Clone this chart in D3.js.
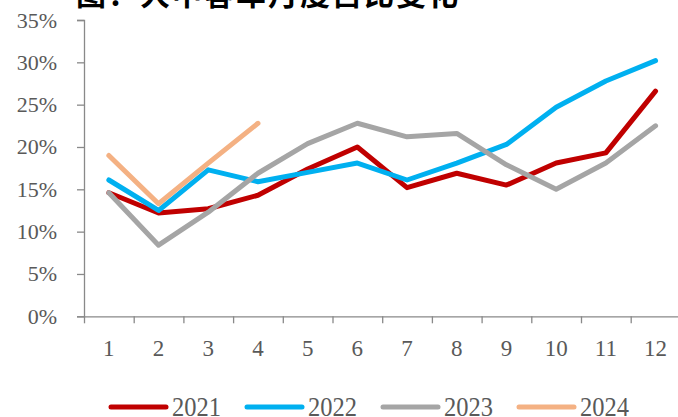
<!DOCTYPE html>
<html>
<head>
<meta charset="utf-8">
<script src="https://cdn.jsdelivr.net/npm/d3@7"></script>
<style>
  body { margin: 0; background: #fff; }
  svg { display: block; }
  .serif { font-family: "Liberation Serif", "Times New Roman", "DejaVu Serif", serif; }
</style>
</head>
<body>
<div id="chart"></div>
<script>
// monthly share
var months = [1, 2, 3, 4, 5, 6, 7, 8, 9, 10, 11, 12];
var years = ["2021", "2022", "2023", "2024"];
var s2021 = [14.6, 12.2, 12.7, 14.3, 17.4, 20.0, 15.2, 16.9, 15.5, 18.1, 19.3, 26.6];
var s2022 = [16.1, 12.5, 17.3, 15.9, 17.0, 18.1, 16.1, 18.1, 20.3, 24.7, 27.8, 30.2];
var s2023 = [14.6, 8.4, 12.3, 16.9, 20.4, 22.8, 21.2, 21.6, 17.9, 15.0, 18.1, 22.5];
var s2024 = [19.0, 13.3, 18.1, 22.8];
var yTicks = [0, 5, 10, 15, 20, 25, 30, 35];
var colors = ["#C00000", "#00B0F0", "#A5A5A5", "#F4B183"];

var series = [s2021, s2022, s2023, s2024];

var W = 678, H = 417;
var svg = d3.select("#chart").append("svg")
    .attr("width", W)
    .attr("height", H);

// title, cut off at the top like the source image
svg.append("text")
    .attr("x", 76)
    .attr("y", 5)
    .attr("font-family", "Noto Sans CJK SC")
    .attr("font-weight", "bold")
    .attr("font-size", 30)
    .attr("letter-spacing", 2)
    .attr("fill", "#000")
    .text("图：大中客车月度占比变化");

// scales
var x = d3.scaleLinear()
    .domain([0, 12])
    .range([84, 680.4]);

var y = d3.scaleLinear()
    .domain([0, 35])
    .range([316.3, 20]);

var axisColor = "#898989";
var labelColor = "#595959";

// y axis
var gy = svg.append("g")
    .attr("transform", "translate(84,0)")
    .call(d3.axisLeft(y)
        .tickValues(yTicks)
        .tickSize(7)
        .tickPadding(20)
        .tickFormat(function(d) { return d + "%"; }));

// x axis, ticks on month boundaries
var gx = svg.append("g")
    .attr("transform", "translate(0," + y(0) + ")")
    .call(d3.axisBottom(x)
        .tickValues(d3.range(0, 13))
        .tickSize(7)
        .tickSizeOuter(0)
        .tickFormat(""));

[gx, gy].forEach(function(g) {
    g.attr("font-family", null).attr("font-size", null);
    g.select(".domain").attr("stroke", axisColor).attr("stroke-width", 1.3);
    g.selectAll(".tick line").attr("stroke", axisColor).attr("stroke-width", 1.3);
    g.selectAll(".tick text")
        .attr("class", "serif")
        .attr("fill", labelColor)
        .style("font-size", "22px");
});
gy.selectAll(".tick text").attr("dy", 7);

// month labels at centre of each slot
svg.append("g").selectAll("text")
    .data(months)
    .enter()
    .append("text")
    .attr("class", "serif")
    .attr("x", function(d) { return x(d - 0.5); })
    .attr("y", 356)
    .attr("text-anchor", "middle")
    .attr("fill", labelColor)
    .style("font-size", "23px")
    .text(function(d) { return d; });

// lines
var line = d3.line()
    .x(function(d, i) { return x(i + 0.5); })
    .y(function(d) { return y(d); });

svg.append("g").selectAll("path")
    .data(series)
    .enter()
    .append("path")
    .attr("d", function(d) { return line(d); })
    .attr("fill", "none")
    .attr("stroke", function(d, i) { return colors[i]; })
    .attr("stroke-width", 5)
    .attr("stroke-linejoin", "round")
    .attr("stroke-linecap", "round");

// legend
var legend = svg.append("g").selectAll("g")
    .data(years)
    .enter()
    .append("g")
    .attr("transform", function(d, i) { return "translate(" + (111 + i * 136) + ",407)"; });

legend.append("line")
    .attr("x1", 0)
    .attr("x2", 55)
    .attr("y1", 0)
    .attr("y2", 0)
    .attr("stroke", function(d, i) { return colors[i]; })
    .attr("stroke-width", 5)
    .attr("stroke-linecap", "round");

legend.append("text")
    .attr("class", "serif")
    .attr("x", 61)
    .attr("y", 9)
    .attr("fill", labelColor)
    .style("font-size", "27px")
    .attr("textLength", 49)
    .attr("lengthAdjust", "spacingAndGlyphs")
    .text(function(d) { return d; });
</script>
</body>
</html>
